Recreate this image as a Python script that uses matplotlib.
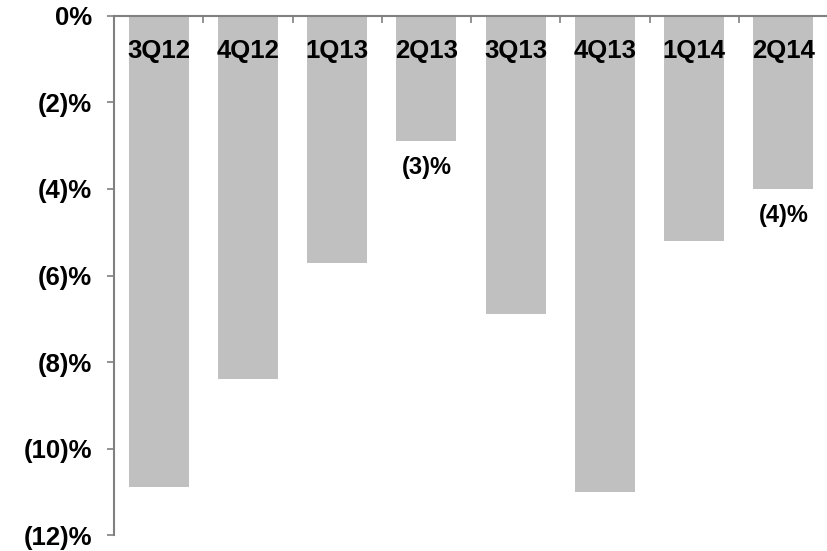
import numpy as np
import matplotlib.pyplot as plt
from matplotlib.ticker import FuncFormatter, FixedLocator

plt.rcParams['font.family'] = ['Liberation Sans', 'DejaVu Sans']
plt.rcParams['font.weight'] = 'bold'

quarters = ["3Q12", "4Q12", "1Q13", "2Q13", "3Q13", "4Q13", "1Q14", "2Q14"]
change_pct = [-10.9, -8.4, -5.7, -2.9, -6.9, -11.0, -5.2, -4.0]
labelled = ["2Q13", "2Q14"]

BAR_GREY = "#c0c0c0"
AXIS_GREY = "#808080"


def pct_label(v, pos=None):
    v = round(v)
    if v == 0:
        return "0%"
    return f"({abs(v):.0f})%" if v < 0 else f"{v:.0f}%"


fig = plt.figure(figsize=(8.28, 5.51), dpi=100)
ax = fig.add_axes([0.1377, 0.029, 0.8623, 0.942])

x = np.arange(len(quarters))
ax.bar(x, change_pct, width=0.67, color=BAR_GREY, edgecolor="none")

ax.set_xlim(-0.5, len(quarters) - 0.5)
ax.set_ylim(-12, 0)

# y axis: Excel style negative percentages
ax.yaxis.set_major_locator(FixedLocator(np.arange(-12, 1, 2)))
ax.yaxis.set_major_formatter(FuncFormatter(pct_label))
ax.tick_params(axis="y", direction="out", length=5, width=1.2,
               color=AXIS_GREY, labelsize=18.5, pad=11)

# category axis sits on the zero line, ticks between categories
ax.xaxis.set_ticks_position("top")
ax.set_xticks(x + 0.5)
ax.set_xticklabels([])
ax.tick_params(axis="x", direction="in", length=5, width=1.2, color=AXIS_GREY)

for side in ("right", "bottom"):
    ax.spines[side].set_visible(False)
for side in ("left", "top"):
    ax.spines[side].set_color(AXIS_GREY)
    ax.spines[side].set_linewidth(1.5)

for i, q in enumerate(quarters):
    ax.annotate(q, xy=(i, 0), xytext=(0, -25), textcoords="offset points",
                ha="center", va="center", fontsize=18.5, fontweight="bold")

for i, (q, v) in enumerate(zip(quarters, change_pct)):
    if q in labelled:
        ax.annotate(pct_label(v), xy=(i, v), xytext=(0, -19),
                    textcoords="offset points", ha="center", va="center",
                    fontsize=17, fontweight="bold")

fig.savefig("out.png", dpi=100)
